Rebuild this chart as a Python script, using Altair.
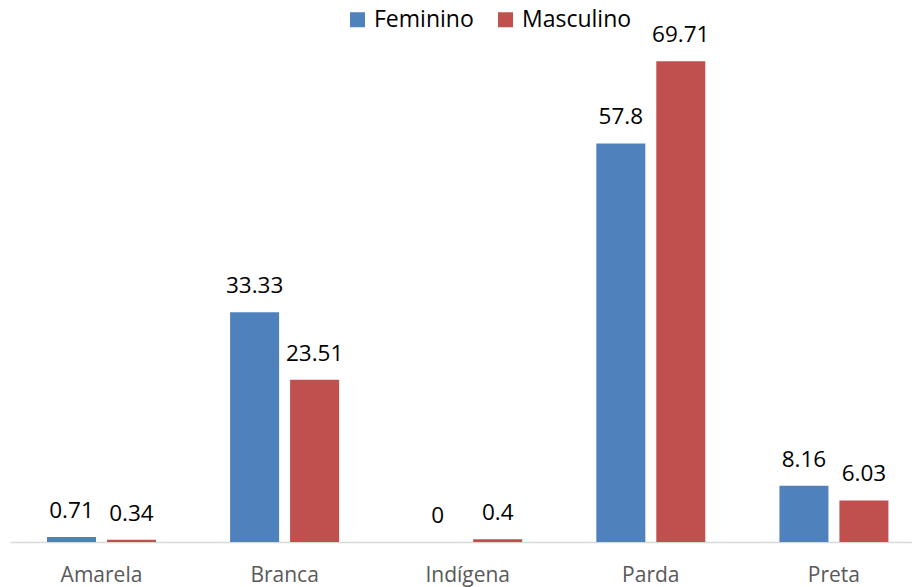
import altair as alt
import pandas as pd

# Distribution by race/colour and sex (%)
racas = ["Amarela", "Branca", "Indígena", "Parda", "Preta"]
sexos = ["Feminino", "Masculino"]
feminino = [0.71, 33.33, 0, 57.8, 8.16]
masculino = [0.34, 23.51, 0.4, 69.71, 6.03]
cores = ["#4F81BD", "#C0504D"]

rows = []
for i, r in enumerate(racas):
    rows.append({"raca": r, "sexo": "Feminino", "valor": feminino[i], "rotulo": str(feminino[i])})
    rows.append({"raca": r, "sexo": "Masculino", "valor": masculino[i], "rotulo": str(masculino[i])})
df = pd.DataFrame(rows)

FONT = "Open Sans"

x = alt.X(
    "raca:N",
    sort=racas,
    scale=alt.Scale(paddingInner=0.3, paddingOuter=0.113, align=0.662),
    axis=alt.Axis(
        title=None,
        labelAngle=0,
        ticks=False,
        tickSize=0,
        grid=False,
        labelPadding=39,
        labelBaseline="alphabetic",
        labelFont=FONT,
        labelFontSize=21,
        labelColor="#595959",
        domainColor="#D9D9D9",
        domainWidth=1.6,
    ),
)
xo = alt.XOffset("sexo:N", sort=sexos, scale=alt.Scale(paddingInner=0.183, paddingOuter=0.16))
y = alt.Y("valor:Q", scale=alt.Scale(domain=[0, 77], nice=False), axis=None)

base = alt.Chart(df).encode(x=x, xOffset=xo, y=y)

bars = base.mark_bar().encode(
    color=alt.Color(
        "sexo:N",
        sort=sexos,
        scale=alt.Scale(domain=sexos, range=cores),
        legend=alt.Legend(
            title=None,
            orient="none",
            legendX=336,
            legendY=-3,
            direction="horizontal",
            symbolType="square",
            symbolSize=225,
            symbolStrokeWidth=0,
            symbolOpacity=1,
            labelFont=FONT,
            labelFontSize=23,
            labelColor="black",
            labelOffset=5,
            columnPadding=20,
            padding=0,
        ),
    )
)

labels = base.mark_text(
    baseline="alphabetic", dy=-19, font=FONT, fontSize=22.5, color="black"
).encode(text="rotulo:N")

chart = (
    alt.layer(bars, labels)
    .properties(
        width=902,
        height=531,
        autosize=alt.AutoSizeParams(type="none"),
        padding={"left": 10, "top": 11, "right": 0, "bottom": 45},
    )
    .configure_view(stroke=None)
)

chart.save("out.html", embed_options={"renderer": "svg", "actions": False})
